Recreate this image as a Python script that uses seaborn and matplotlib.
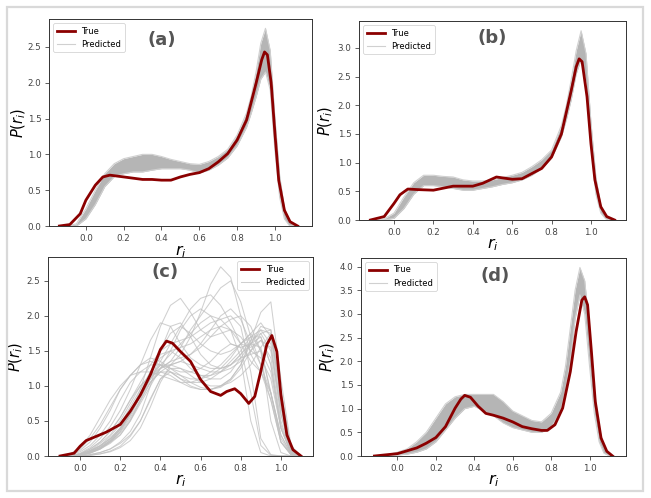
import numpy as np
import pandas as pd
import matplotlib
matplotlib.use("Agg")
import matplotlib.pyplot as plt
from matplotlib.patches import Rectangle
import seaborn as sns

# ---------------- data ----------------
# common x grid for predicted envelopes of panels a, b, d
grid_abd = [-0.1, -0.05, 0.0, 0.05, 0.1, 0.15, 0.2, 0.25, 0.3, 0.35, 0.4, 0.45, 0.5,
            0.55, 0.6, 0.65, 0.7, 0.75, 0.8, 0.85, 0.875, 0.9, 0.925, 0.95, 0.975,
            1.0, 1.025, 1.05, 1.075, 1.1, 1.125]

# panel (a)
a_true_x = [-0.14, -0.085, -0.03, 0.0, 0.05, 0.09, 0.127, 0.2, 0.3, 0.35, 0.4, 0.45, 0.5,
            0.55, 0.6, 0.65, 0.7, 0.75, 0.8, 0.85, 0.9, 0.93, 0.945, 0.96, 0.98, 1.0,
            1.02, 1.05, 1.08, 1.12]
a_true_y = [0.0, 0.02, 0.17, 0.36, 0.57, 0.685, 0.71, 0.685, 0.65, 0.65, 0.64, 0.64, 0.685,
            0.72, 0.745, 0.8, 0.895, 1.01, 1.2, 1.48, 1.99, 2.32, 2.43, 2.39, 2.0, 1.29,
            0.64, 0.22, 0.06, 0.0]
a_pred_lo = [0.0, 0.0, 0.1, 0.3, 0.55, 0.69, 0.73, 0.755, 0.755, 0.78, 0.8, 0.8, 0.8,
             0.78, 0.74, 0.78, 0.85, 0.95, 1.12, 1.38, 1.58, 1.8, 2.05, 2.15, 1.9,
             1.05, 0.4, 0.1, 0.01, 0.0, 0.0]
a_pred_hi = [0.0, 0.03, 0.24, 0.5, 0.73, 0.87, 0.94, 0.97, 1.0, 1.0, 0.97, 0.93, 0.9,
             0.87, 0.86, 0.9, 0.97, 1.07, 1.27, 1.58, 1.82, 2.15, 2.55, 2.76, 2.45,
             1.5, 0.7, 0.25, 0.06, 0.01, 0.0]

# panel (b)
b_true_x = [-0.12, -0.05, 0.0, 0.03, 0.07, 0.12, 0.2, 0.3, 0.4, 0.45, 0.52, 0.6, 0.65,
            0.7, 0.75, 0.8, 0.85, 0.9, 0.925, 0.94, 0.955, 0.98, 1.0, 1.02, 1.05,
            1.08, 1.12]
b_true_y = [0.0, 0.06, 0.29, 0.44, 0.54, 0.53, 0.52, 0.59, 0.59, 0.64, 0.75, 0.71, 0.72,
            0.81, 0.9, 1.1, 1.5, 2.26, 2.67, 2.81, 2.76, 2.15, 1.33, 0.7, 0.23,
            0.06, 0.0]
b_pred_lo = [0.0, 0.0, 0.03, 0.2, 0.45, 0.6, 0.6, 0.58, 0.55, 0.52, 0.52, 0.55, 0.58,
             0.62, 0.65, 0.7, 0.78, 0.9, 1.08, 1.45, 1.75, 2.1, 2.55, 2.8, 2.4,
             1.3, 0.45, 0.12, 0.02, 0.0, 0.0]
b_pred_hi = [0.0, 0.02, 0.12, 0.4, 0.65, 0.78, 0.78, 0.76, 0.75, 0.7, 0.68, 0.68, 0.7,
             0.74, 0.78, 0.83, 0.93, 1.05, 1.22, 1.65, 2.0, 2.45, 2.95, 3.3, 2.9,
             1.7, 0.75, 0.25, 0.06, 0.01, 0.0]

# panel (c)
c_true_x = [-0.1, -0.03, 0.0, 0.03, 0.08, 0.13, 0.2, 0.25, 0.3, 0.35, 0.4, 0.43, 0.46,
            0.5, 0.55, 0.6, 0.65, 0.7, 0.73, 0.77, 0.8, 0.84, 0.87, 0.9, 0.93, 0.955,
            0.98, 1.0, 1.03, 1.06, 1.1]
c_true_y = [0.0, 0.04, 0.14, 0.22, 0.28, 0.34, 0.45, 0.64, 0.87, 1.16, 1.52, 1.64, 1.61,
            1.49, 1.35, 1.09, 0.92, 0.865, 0.92, 0.96, 0.89, 0.75, 0.85, 1.21, 1.59, 1.72,
            1.49, 0.875, 0.3, 0.09, 0.0]
grid_c = [-0.1, -0.05, 0.0, 0.05, 0.1, 0.15, 0.2, 0.25, 0.3, 0.35, 0.4, 0.45, 0.5,
          0.55, 0.6, 0.65, 0.7, 0.75, 0.8, 0.85, 0.9, 0.95, 1.0, 1.05, 1.1]
c_pred = [
    [0, 0, 0.02, 0.08, 0.15, 0.25, 0.4, 0.6, 0.85, 1.05, 1.2, 1.3, 1.45, 1.7, 2.05, 2.45, 2.7, 2.55, 2.0, 1.45, 1.2, 0.9, 0.3, 0.03, 0],
    [0, 0, 0.03, 0.1, 0.2, 0.35, 0.55, 0.8, 1.0, 1.15, 1.25, 1.35, 1.55, 1.8, 2.0, 2.2, 2.4, 2.5, 2.2, 1.7, 1.3, 0.8, 0.2, 0.02, 0],
    [0, 0, 0.02, 0.06, 0.12, 0.2, 0.35, 0.6, 0.95, 1.4, 1.85, 2.15, 2.25, 2.05, 1.8, 1.7, 1.75, 1.8, 1.7, 1.5, 1.4, 1.1, 0.4, 0.05, 0],
    [0, 0, 0.01, 0.04, 0.1, 0.2, 0.35, 0.55, 0.8, 1.05, 1.2, 1.2, 1.1, 1.0, 0.95, 0.95, 1.0, 1.1, 1.3, 1.65, 2.05, 2.2, 1.1, 0.15, 0],
    [0, 0.02, 0.08, 0.2, 0.4, 0.65, 0.95, 1.15, 1.3, 1.35, 1.3, 1.2, 1.1, 1.05, 1.05, 1.1, 1.2, 1.35, 1.5, 1.7, 1.8, 1.6, 0.6, 0.08, 0],
    [0, 0, 0.03, 0.1, 0.2, 0.35, 0.55, 0.8, 1.05, 1.3, 1.5, 1.6, 1.65, 1.7, 1.8, 1.9, 1.95, 2.0, 1.85, 1.2, 0.25, 0.02, 0, 0, 0],
    [0, 0, 0, 0.02, 0.05, 0.1, 0.2, 0.35, 0.6, 1.0, 1.5, 1.85, 1.9, 1.7, 1.45, 1.3, 1.25, 1.3, 1.45, 1.65, 1.75, 1.5, 0.6, 0.06, 0],
    [0, 0, 0.02, 0.08, 0.18, 0.3, 0.5, 0.75, 1.0, 1.15, 1.2, 1.15, 1.05, 0.98, 0.95, 0.95, 1.0, 1.05, 1.15, 1.3, 1.55, 1.75, 0.9, 0.1, 0],
    [0, 0, 0.01, 0.05, 0.1, 0.2, 0.3, 0.5, 0.75, 1.0, 1.25, 1.5, 1.8, 2.0, 2.1, 2.0, 1.8, 1.6, 1.55, 1.6, 1.7, 1.3, 0.4, 0.04, 0],
    [0, 0, 0, 0.01, 0.03, 0.06, 0.12, 0.22, 0.4, 0.7, 1.05, 1.3, 1.35, 1.3, 1.25, 1.2, 1.2, 1.25, 1.35, 1.5, 1.65, 1.55, 0.7, 0.08, 0],
    [0, 0.02, 0.06, 0.15, 0.3, 0.5, 0.8, 1.05, 1.2, 1.3, 1.3, 1.25, 1.2, 1.2, 1.25, 1.35, 1.5, 1.6, 1.55, 0.9, 0.15, 0.01, 0, 0, 0],
    [0, 0, 0.02, 0.07, 0.14, 0.25, 0.4, 0.6, 0.85, 1.1, 1.3, 1.45, 1.6, 1.75, 1.9, 2.0, 1.95, 1.8, 1.6, 1.55, 1.65, 1.4, 0.5, 0.05, 0],
    [0, 0, 0.01, 0.05, 0.12, 0.22, 0.38, 0.6, 0.9, 1.15, 1.3, 1.3, 1.25, 1.15, 1.05, 1.0, 1.0, 1.1, 1.3, 1.6, 1.85, 1.8, 0.8, 0.08, 0],
    [0, 0.01, 0.04, 0.12, 0.25, 0.42, 0.65, 0.95, 1.3, 1.65, 1.9, 1.85, 1.6, 1.4, 1.3, 1.25, 1.25, 1.3, 1.4, 1.45, 1.5, 1.2, 0.4, 0.04, 0],
    [0, 0.03, 0.1, 0.25, 0.45, 0.7, 0.95, 1.15, 1.3, 1.4, 1.35, 1.25, 1.15, 1.1, 1.1, 1.15, 1.25, 1.4, 1.6, 1.75, 1.5, 0.5, 0.05, 0, 0],
    [0, 0, 0.01, 0.04, 0.1, 0.18, 0.3, 0.5, 0.8, 1.15, 1.5, 1.75, 1.85, 1.75, 1.6, 1.5, 1.45, 1.5, 1.6, 1.75, 1.9, 1.7, 0.7, 0.07, 0],
    [0, 0, 0.02, 0.06, 0.12, 0.22, 0.38, 0.58, 0.85, 1.1, 1.35, 1.6, 1.85, 2.1, 2.25, 2.3, 2.15, 1.9, 1.6, 1.35, 1.2, 0.8, 0.2, 0.02, 0],
    [0, 0, 0, 0.02, 0.05, 0.1, 0.18, 0.3, 0.5, 0.8, 1.1, 1.2, 1.15, 1.05, 0.98, 0.95, 0.98, 1.08, 1.25, 1.5, 1.75, 1.8, 0.95, 0.12, 0],
    [0, 0, 0.02, 0.07, 0.15, 0.28, 0.45, 0.7, 0.95, 1.2, 1.4, 1.5, 1.55, 1.6, 1.7, 1.8, 1.85, 1.8, 1.4, 0.5, 0.05, 0, 0, 0, 0],
    [0, 0, 0.01, 0.05, 0.11, 0.2, 0.33, 0.52, 0.78, 1.05, 1.25, 1.35, 1.4, 1.45, 1.55, 1.7, 1.85, 1.95, 2.0, 1.85, 1.5, 0.9, 0.25, 0.02, 0],
    [0, 0.03, 0.12, 0.3, 0.55, 0.8, 1.0, 1.15, 1.2, 1.2, 1.15, 1.1, 1.05, 1.05, 1.1, 1.2, 1.3, 1.45, 1.6, 1.7, 1.7, 1.3, 0.45, 0.05, 0],
    [0, 0, 0.01, 0.05, 0.12, 0.22, 0.38, 0.6, 0.9, 1.2, 1.45, 1.5, 1.4, 1.25, 1.15, 1.1, 1.1, 1.2, 1.4, 1.6, 1.8, 1.75, 0.85, 0.1, 0],
    [0, 0, 0.02, 0.07, 0.14, 0.24, 0.4, 0.62, 0.88, 1.1, 1.25, 1.3, 1.35, 1.45, 1.6, 1.8, 2.0, 2.1, 1.95, 1.6, 1.3, 0.9, 0.3, 0.03, 0],
    [0, 0, 0, 0.01, 0.03, 0.07, 0.14, 0.28, 0.5, 0.82, 1.1, 1.25, 1.25, 1.2, 1.15, 1.15, 1.2, 1.3, 1.45, 1.6, 1.55, 0.9, 0.2, 0.02, 0],
]

# panel (d)
d_true_x = [-0.12, 0.0, 0.1, 0.15, 0.2, 0.25, 0.3, 0.33, 0.35, 0.38, 0.42, 0.46, 0.5,
            0.55, 0.6, 0.65, 0.7, 0.75, 0.78, 0.82, 0.86, 0.9, 0.93, 0.96, 0.975,
            0.99, 1.01, 1.03, 1.06, 1.09, 1.12]
d_true_y = [0.0, 0.05, 0.17, 0.27, 0.39, 0.62, 1.01, 1.2, 1.28, 1.24, 1.05, 0.9, 0.86,
            0.8, 0.72, 0.62, 0.575, 0.54, 0.54, 0.66, 1.01, 1.78, 2.62, 3.29, 3.36,
            3.19, 2.2, 1.15, 0.38, 0.1, 0.0]
d_pred_lo = [0.0, 0.0, 0.02, 0.04, 0.08, 0.15, 0.3, 0.55, 0.8, 1.0, 1.05, 0.95, 0.85,
             0.7, 0.6, 0.55, 0.5, 0.5, 0.6, 0.95, 1.4, 2.0, 2.9, 3.4, 3.0,
             1.9, 0.9, 0.3, 0.06, 0.01, 0.0]
d_pred_hi = [0.01, 0.03, 0.08, 0.15, 0.3, 0.5, 0.8, 1.1, 1.25, 1.3, 1.3, 1.3, 1.3,
             1.15, 0.95, 0.85, 0.75, 0.72, 0.9, 1.35, 1.9, 2.7, 3.5, 3.98, 3.7,
             2.7, 1.4, 0.6, 0.2, 0.04, 0.0]

panel_labels = ["(a)", "(b)", "(c)", "(d)"]
x_ticks = [0.0, 0.2, 0.4, 0.6, 0.8, 1.0]

# ---------------- figure ----------------
W, H = 651, 498
fig = plt.figure(figsize=(W / 100, H / 100), dpi=100)
fig.patch.set_facecolor("white")
fig.add_artist(Rectangle((7 / W, 7 / H), 636 / W, 484 / H, transform=fig.transFigure,
                         fill=False, edgecolor="#d9d9d9", linewidth=1.6))

TRUE_C = "#8b0000"
BAND_C = "#a8a8a8"
EDGE_C = "#d0d0d0"

def px_axes(l, t, r, b):
    return fig.add_axes([l / W, 1 - b / H, (r - l) / W, (b - t) / H])

ax_a = px_axes(49, 19, 312, 226)
ax_b = px_axes(359, 21, 626, 220)
ax_c = px_axes(48, 257, 313, 456)
ax_d = px_axes(361, 258, 626, 456)

def band_panel(ax, lo, hi, tx, ty):
    ax.fill_between(grid_abd, lo, hi, color=BAND_C, alpha=0.85, linewidth=0, zorder=1)
    sns.lineplot(x=grid_abd, y=lo, ax=ax, color=EDGE_C, linewidth=0.8, zorder=2,
                 label="Predicted")
    sns.lineplot(x=grid_abd, y=hi, ax=ax, color=EDGE_C, linewidth=0.8, zorder=2)
    sns.lineplot(x=tx, y=ty, ax=ax, color=TRUE_C, linewidth=2.0, zorder=3, label="True")

band_panel(ax_a, a_pred_lo, a_pred_hi, a_true_x, a_true_y)
band_panel(ax_b, b_pred_lo, b_pred_hi, b_true_x, b_true_y)
band_panel(ax_d, d_pred_lo, d_pred_hi, d_true_x, d_true_y)

for i, curve in enumerate(c_pred):
    sns.lineplot(x=grid_c, y=curve, ax=ax_c, color="#c0c0c0", linewidth=0.75, alpha=0.75,
                 zorder=1, label="Predicted" if i == 0 else None)
sns.lineplot(x=c_true_x, y=c_true_y, ax=ax_c, color=TRUE_C, linewidth=2.0, zorder=3,
             label="True")

limits = {
    "a": ((-0.195, 1.196), (0, 2.89), [0, 0.5, 1.0, 1.5, 2.0, 2.5]),
    "b": ((-0.178, 1.178), (0, 3.47), [0, 0.5, 1.0, 1.5, 2.0, 2.5, 3.0]),
    "c": ((-0.16, 1.16), (0, 2.84), [0, 0.5, 1.0, 1.5, 2.0, 2.5]),
    "d": ((-0.19, 1.19), (0, 4.18), [0, 0.5, 1.0, 1.5, 2.0, 2.5, 3.0, 3.5, 4.0]),
}
label_pos = {"a": (0.43, 0.90), "b": (0.50, 0.915), "c": (0.44, 0.925), "d": (0.505, 0.91)}
ylabel_x = {"a": -0.078, "b": -0.09, "c": -0.086, "d": -0.092}
legend_loc = {"a": "upper left", "b": "upper left", "c": "upper right", "d": "upper left"}

for key, ax, lab in zip("abcd", [ax_a, ax_b, ax_c, ax_d], panel_labels):
    xl, yl, yt = limits[key]
    ax.set_xlim(*xl)
    ax.set_ylim(*yl)
    ax.set_xticks(x_ticks)
    ax.set_yticks(yt)
    ax.set_xticklabels([f"{v:.1f}" for v in x_ticks])
    ax.set_yticklabels([f"{v:.1f}" for v in yt])
    ax.tick_params(labelsize=6.3, length=3, width=0.6, colors="#444444", pad=2.5)
    for s in ax.spines.values():
        s.set_linewidth(0.7)
        s.set_color("#333333")
    ax.set_xlabel("$r_i$", fontsize=11.5)
    ax.set_ylabel("$P(r_i)$", fontsize=10.5)
    ax.yaxis.set_label_coords(ylabel_x[key], 0.5)
    ax.xaxis.set_label_coords(0.5, -0.083)
    ax.text(label_pos[key][0], label_pos[key][1], lab, transform=ax.transAxes,
            ha="center", va="center", fontsize=13, fontweight="bold", color="#555555")
    handles, labels = ax.get_legend_handles_labels()
    order = [labels.index("True"), labels.index("Predicted")]
    leg = ax.legend([handles[j] for j in order], [labels[j] for j in order],
                    loc=legend_loc[key], fontsize=6, handlelength=2.2,
                    borderpad=0.4, labelspacing=0.5, framealpha=1)
    leg.get_frame().set_linewidth(0.5)

fig.savefig("out.png", dpi=100)
